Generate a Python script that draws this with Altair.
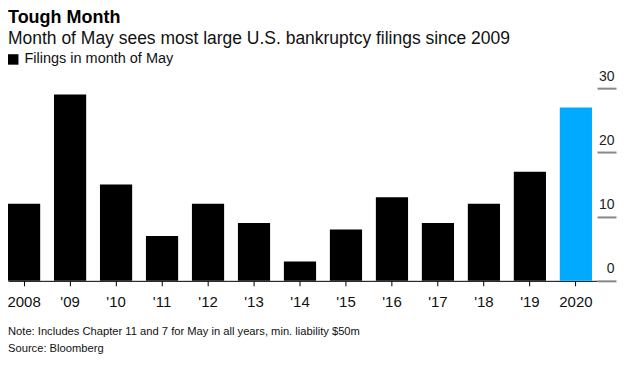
import altair as alt
import pandas as pd

years = ["2008", "'09", "'10", "'11", "'12", "'13", "'14", "'15", "'16", "'17", "'18", "'19", "2020"]
filings = [12, 29, 15, 7, 12, 9, 3, 8, 13, 9, 12, 17, 27]
highlight = [False] * 12 + [True]
series_name = "Filings in month of May"

title_text = "Tough Month"
subtitle_text = "Month of May sees most large U.S. bankruptcy filings since 2009"
note_text = "Note: Includes Chapter 11 and 7 for May in all years, min. liability $50m"
source_text = "Source: Bloomberg"

FONT = "Liberation Sans"

df = pd.DataFrame({"year": years, "filings": filings, "hl": highlight, "series": series_name})

W, H = 590, 193

bars = alt.Chart(df).mark_bar().encode(
    x=alt.X("year:N", sort=None,
            scale=alt.Scale(paddingInner=0.3, paddingOuter=0.055, align=0),
            axis=alt.Axis(title=None, labelAngle=0, labelFontSize=15, labelColor="#111",
                          labelFont=FONT, tickColor="#000", tickSize=5, domainColor="#000",
                          domainWidth=1, labelPadding=9)),
    y=alt.Y("filings:Q", scale=alt.Scale(domain=[0, 30], nice=False),
            axis=alt.Axis(title=None, orient="right", values=[0, 10, 20, 30], grid=False,
                          domain=False, offset=0, tickSize=19, tickColor="#888", tickWidth=2,
                          labelAlign="right", labelPadding=-2, labelBaseline="alphabetic",
                          labelOffset=-8, labelFontSize=14, labelColor="#222", labelFont=FONT)),
    color=alt.condition(
        "datum.hl",
        alt.value("#00aaff"),
        alt.Color("series:N", scale=alt.Scale(range=["#000000"]),
                  legend=alt.Legend(title=None, orient="none", legendX=-2, legendY=-36,
                                    padding=0,
                                    symbolType="square", symbolSize=110, symbolStrokeWidth=0,
                                    labelFontSize=14.5, labelFont=FONT, labelColor="#111",
                                    labelOffset=4)),
    ),
)

note = alt.Chart(pd.DataFrame({"t": [note_text]})).mark_text(
    align="left", baseline="alphabetic", fontSize=11.2, font=FONT, color="#111"
).encode(text="t:N", x=alt.value(0), y=alt.value(H + 54))

source = alt.Chart(pd.DataFrame({"t": [source_text]})).mark_text(
    align="left", baseline="alphabetic", fontSize=11.2, font=FONT, color="#111"
).encode(text="t:N", x=alt.value(0), y=alt.value(H + 71))

chart = alt.layer(bars, note, source).properties(
    width=W, height=H,
    autosize=alt.AutoSizeParams(type="none"),
    padding={"left": 0, "top": 80, "right": 22, "bottom": 78},
    title=alt.Title(title_text, subtitle=subtitle_text, anchor="start", frame="group",
                    font=FONT, fontSize=18, fontWeight="bold", color="#000",
                    subtitleFont=FONT, subtitleFontSize=17.5, subtitleColor="#111",
                    subtitlePadding=3, offset=5),
).configure_view(stroke=None)

chart.save("out.html", embed_options={"renderer": "svg", "actions": False})
